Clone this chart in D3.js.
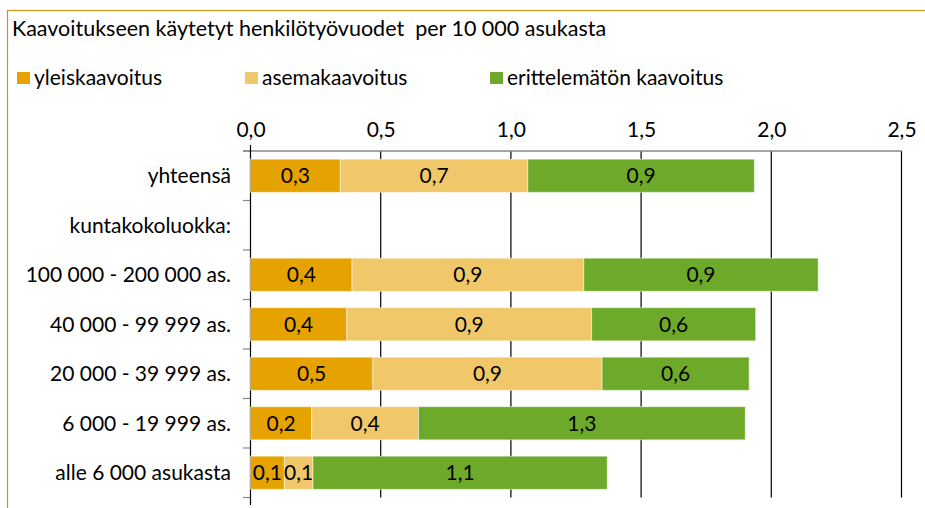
<!DOCTYPE html>
<html>
<head>
<meta charset="utf-8">
<script src="https://cdn.jsdelivr.net/npm/d3@7"></script>
<style>
  body { margin: 0; background: #fff; }
  text { font-family: Lato, "Open Sans", sans-serif; fill: #000; }
</style>
</head>
<body>
<div id="chart"></div>
<script>
// data
var categories = ["yhteensä", "kuntakokoluokka:", "100 000 - 200 000 as.", "40 000 - 99 999 as.",
                  "20 000 - 39 999 as.", "6 000 - 19 999 as.", "alle 6 000 asukasta"];
var seriesNames = ["yleiskaavoitus", "asemakaavoitus", "erittelemätön kaavoitus"];
var yleiskaavoitus = [0.345, null, 0.39, 0.37, 0.47, 0.235, 0.13];
var asemakaavoitus = [0.72, null, 0.89, 0.94, 0.88, 0.41, 0.11];
var erittelematon  = [0.87, null, 0.90, 0.63, 0.565, 1.255, 1.13];
var xTicks = [0, 0.5, 1, 1.5, 2, 2.5];
var colors = ["#e6a300", "#f0c86a", "#6eaa29"];

var W = 925, H = 508;
var svg = d3.select("#chart").append("svg")
  .attr("width", W).attr("height", H);

// frame (cut off on the right and bottom)
svg.append("rect")
  .attr("x", 7.5).attr("y", 10.5)
  .attr("width", W + 20).attr("height", H + 20)
  .attr("fill", "none").attr("stroke", "#c8961e").attr("stroke-width", 1.2);

// title
svg.append("text")
  .attr("x", 12).attr("y", 36)
  .style("font-size", "21.5px")
  .style("white-space", "pre")
  .text("Kaavoitukseen käytetyt henkilötyövuodet  per 10 000 asukasta");

// legend
var legendX = [17, 245, 490];
var legend = svg.selectAll(".legend")
  .data(seriesNames)
  .enter().append("g")
  .attr("class", "legend")
  .attr("transform", function(d, i) { return "translate(" + legendX[i] + ",72)"; });
legend.append("rect")
  .attr("width", 13).attr("height", 12)
  .attr("fill", function(d, i) { return colors[i]; });
legend.append("text")
  .attr("x", 17).attr("y", 13)
  .style("font-size", "21px")
  .text(function(d) { return d; });

// scales
var x = d3.scaleLinear().domain([0, 2.5]).range([250.5, 901.5]);
var y = d3.scaleBand().domain(categories).range([151, 497.5])
  .paddingInner(0.33).paddingOuter(0.165);
var step = y.step();
var comma = function(v) { return d3.format(".1f")(v).replace(".", ","); };

// grid
svg.selectAll(".grid")
  .data(xTicks.slice(1))
  .enter().append("line")
  .attr("class", "grid")
  .attr("x1", function(d) { return x(d); }).attr("x2", function(d) { return x(d); })
  .attr("y1", 151).attr("y2", 497.5)
  .attr("stroke", "#000").attr("stroke-width", 1.2);

// top axis
var xAxis = svg.append("g")
  .attr("transform", "translate(0,151)")
  .call(d3.axisTop(x).tickValues(xTicks).tickSize(0).tickPadding(14).tickFormat(comma));
xAxis.select(".domain").attr("stroke", "#888").attr("stroke-width", 1.5)
  .attr("d", "M243,0H" + x(2.5));
xAxis.selectAll("text").style("font-size", "21px");

// left axis with ticks between the categories
var bounds = d3.range(categories.length + 1).map(function(i) { return 151 + i * step; });
svg.selectAll(".ytick")
  .data(bounds)
  .enter().append("line")
  .attr("class", "ytick")
  .attr("x1", 243).attr("x2", x(0))
  .attr("y1", function(d) { return d; }).attr("y2", function(d) { return d; })
  .attr("stroke", "#888").attr("stroke-width", 1.2);
svg.append("line")
  .attr("x1", x(0)).attr("x2", x(0))
  .attr("y1", 145).attr("y2", 505)
  .attr("stroke", "#000").attr("stroke-width", 1.2);

svg.selectAll(".cat")
  .data(categories)
  .enter().append("text")
  .attr("class", "cat")
  .attr("x", 231)
  .attr("y", function(d) { return y(d) + y.bandwidth() / 2; })
  .attr("dy", "0.35em")
  .attr("text-anchor", "end")
  .style("font-size", "21px")
  .text(function(d) { return d; });

// stacked bars
var rows = categories.map(function(c, i) {
  return { cat: c, values: [yleiskaavoitus[i], asemakaavoitus[i], erittelematon[i]] };
}).filter(function(r) { return r.values[0] != null; });

var segs = [];
rows.forEach(function(r) {
  var start = 0;
  r.values.forEach(function(v, k) {
    segs.push({ cat: r.cat, k: k, x0: start, x1: start + v, v: v });
    start += v;
  });
});

var bar = svg.selectAll(".seg")
  .data(segs)
  .enter().append("g")
  .attr("class", "seg");
bar.append("rect")
  .attr("x", function(d) { return x(d.x0); })
  .attr("width", function(d) { return x(d.x1) - x(d.x0); })
  .attr("y", function(d) { return y(d.cat); })
  .attr("height", y.bandwidth())
  .attr("fill", function(d) { return colors[d.k]; })
  .attr("stroke", "rgba(255,255,255,0.5)").attr("stroke-width", 1);
bar.append("text")
  .attr("x", function(d) { return (x(d.x0) + x(d.x1)) / 2; })
  .attr("y", function(d) { return y(d.cat) + y.bandwidth() / 2; })
  .attr("dy", "0.35em")
  .attr("text-anchor", "middle")
  .style("font-size", "21px")
  .text(function(d) { return comma(d.v); });
</script>
</body>
</html>
